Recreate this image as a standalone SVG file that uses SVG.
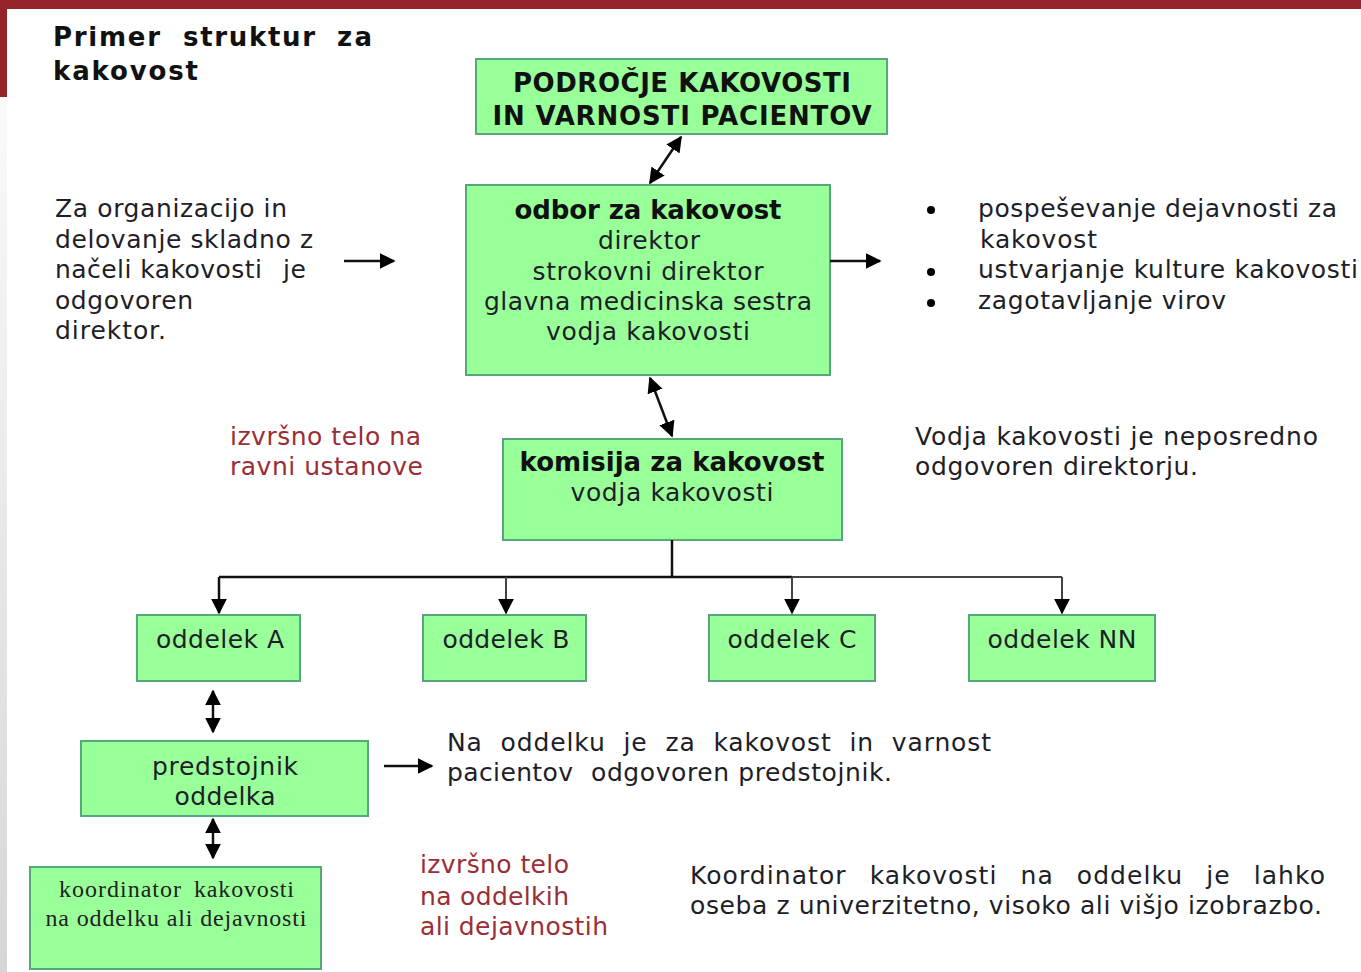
<svg xmlns="http://www.w3.org/2000/svg" width="1361" height="972" viewBox="0 0 1361 972">
  <defs>
    <linearGradient id="sideShade" x1="0" y1="0" x2="0" y2="1">
      <stop offset="0" stop-color="#fafafa"/>
      <stop offset="1" stop-color="#d6d6d6"/>
    </linearGradient>
    <marker id="head" viewBox="0 0 10 10" refX="9" refY="5" markerWidth="16" markerHeight="16" markerUnits="userSpaceOnUse" orient="auto-start-reverse">
      <path d="M0,0 L10,5 L0,10 z" fill="#000"/>
    </marker>
    <style>
      .box { fill: #99ff99; stroke: #55a87a; stroke-width: 2; }
      .t { font-family: "DejaVu Sans", Verdana, sans-serif; font-size: 25px; fill: #1e1e28; }
      .c { text-anchor: middle; }
      .b { font-weight: bold; font-size: 26px; fill: #111; }
      .red { fill: #9a2e36; }
      .serif { font-family: "Liberation Serif", "Times New Roman", serif; font-size: 24px; fill: #222; }
      .ln { fill: none; stroke: #111; stroke-width: 2.5; }
      .ln2 { fill: none; stroke: #444; stroke-width: 2; }
    </style>
  </defs>

  <!-- page frame -->
  <rect x="0" y="0" width="1361" height="972" fill="#fff"/>
  <rect x="0" y="97" width="7" height="875" fill="url(#sideShade)"/>
  <rect x="0" y="0" width="1361" height="9" fill="#952428"/>
  <rect x="0" y="0" width="7" height="97" fill="#952428"/>

  <!-- title -->
  <text class="t b" font-size="28" y="46"><tspan x="53" textLength="107" lengthAdjust="spacing">Primer</tspan><tspan x="183" textLength="132" lengthAdjust="spacing">struktur</tspan><tspan x="337" textLength="35" lengthAdjust="spacing">za</tspan></text>
  <text class="t b" font-size="28" x="53" y="80" textLength="145" lengthAdjust="spacing">kakovost</text>

  <!-- side notes -->
  <g id="note-left">
    <text class="t" x="55" y="217" textLength="232" lengthAdjust="spacing">Za organizacijo in</text>
    <text class="t" x="55" y="248" textLength="258" lengthAdjust="spacing">delovanje skladno z</text>
    <text class="t" x="55" y="278"><tspan textLength="207" lengthAdjust="spacing">načeli kakovosti</tspan><tspan x="283" textLength="23" lengthAdjust="spacing">je</tspan></text>
    <text class="t" x="55" y="309" textLength="138" lengthAdjust="spacing">odgovoren</text>
    <text class="t" x="55" y="339" textLength="111" lengthAdjust="spacing">direktor.</text>
  </g>
  <g id="note-tasks">
    <circle cx="931" cy="210" r="4" fill="#000"/>
    <circle cx="931" cy="272" r="4" fill="#000"/>
    <circle cx="931" cy="303" r="4" fill="#000"/>
    <text class="t" x="978" y="217" textLength="359" lengthAdjust="spacing">pospeševanje dejavnosti za</text>
    <text class="t" x="980" y="248" textLength="117" lengthAdjust="spacing">kakovost</text>
    <text class="t" x="978" y="278" textLength="380" lengthAdjust="spacing">ustvarjanje kulture kakovosti</text>
    <text class="t" x="978" y="309" textLength="248" lengthAdjust="spacing">zagotavljanje virov</text>
  </g>
  <g id="note-exec-institution">
    <text class="t red" x="230" y="445" textLength="191" lengthAdjust="spacing">izvršno telo na</text>
    <text class="t red" x="230" y="475" textLength="193" lengthAdjust="spacing">ravni ustanove</text>
  </g>
  <g id="note-leader">
    <text class="t" x="915" y="445" textLength="403" lengthAdjust="spacing">Vodja kakovosti je neposredno</text>
    <text class="t" x="915" y="475" textLength="283" lengthAdjust="spacing">odgovoren direktorju.</text>
  </g>
  <g id="note-head">
    <text class="t" x="447" y="751" word-spacing="9" textLength="544" lengthAdjust="spacing">Na oddelku je za kakovost in varnost</text>
    <text class="t" y="781"><tspan x="447" textLength="126" lengthAdjust="spacing">pacientov</tspan><tspan x="591" textLength="301" lengthAdjust="spacing">odgovoren predstojnik.</tspan></text>
  </g>
  <g id="note-exec-dept">
    <text class="t red" x="420" y="873" textLength="149" lengthAdjust="spacing">izvršno telo</text>
    <text class="t red" x="420" y="905" textLength="149" lengthAdjust="spacing">na oddelkih</text>
    <text class="t red" x="420" y="935" textLength="188" lengthAdjust="spacing">ali dejavnostih</text>
  </g>
  <g id="note-coordinator">
    <text class="t" x="690" y="884" word-spacing="14" textLength="635" lengthAdjust="spacing">Koordinator kakovosti na oddelku je lahko</text>
    <text class="t" x="690" y="914" textLength="632" lengthAdjust="spacing">oseba z univerzitetno, visoko ali višjo izobrazbo.</text>
  </g>

  <!-- nodes -->
  <g id="area">
    <rect class="box" x="476" y="59" width="411" height="75"/>
    <text class="t b c" x="682" y="92" textLength="338" lengthAdjust="spacing">PODROČJE KAKOVOSTI</text>
    <text class="t b c" x="682" y="125" textLength="379" lengthAdjust="spacing">IN VARNOSTI PACIENTOV</text>
  </g>
  <g id="board">
    <rect class="box" x="466" y="185" width="364" height="190"/>
    <text class="t b c" x="648" y="219" textLength="267" lengthAdjust="spacing">odbor za kakovost</text>
    <text class="t c" x="649" y="249" textLength="102" lengthAdjust="spacing">direktor</text>
    <text class="t c" x="648" y="280" textLength="231" lengthAdjust="spacing">strokovni direktor</text>
    <text class="t c" x="648" y="310" textLength="328" lengthAdjust="spacing">glavna medicinska sestra</text>
    <text class="t c" x="648" y="340" textLength="204" lengthAdjust="spacing">vodja kakovosti</text>
  </g>
  <g id="commission">
    <rect class="box" x="503" y="439" width="339" height="101"/>
    <text class="t b c" x="672" y="471" textLength="305" lengthAdjust="spacing">komisija za kakovost</text>
    <text class="t c" x="672" y="501" textLength="203" lengthAdjust="spacing">vodja kakovosti</text>
  </g>
  <g id="dept-a">
    <rect class="box" x="137" y="615" width="163" height="66"/>
    <text class="t c" x="220" y="648" textLength="128" lengthAdjust="spacing">oddelek A</text>
  </g>
  <g id="dept-b">
    <rect class="box" x="423" y="615" width="163" height="66"/>
    <text class="t c" x="506" y="648" textLength="127" lengthAdjust="spacing">oddelek B</text>
  </g>
  <g id="dept-c">
    <rect class="box" x="709" y="615" width="166" height="66"/>
    <text class="t c" x="792" y="648" textLength="129" lengthAdjust="spacing">oddelek C</text>
  </g>
  <g id="dept-nn">
    <rect class="box" x="969" y="615" width="186" height="66"/>
    <text class="t c" x="1062" y="648" textLength="149" lengthAdjust="spacing">oddelek NN</text>
  </g>
  <g id="head-of-dept">
    <rect class="box" x="81" y="741" width="287" height="75"/>
    <text class="t c" x="225" y="775" textLength="146" lengthAdjust="spacing">predstojnik</text>
    <text class="t c" x="225" y="805" textLength="101" lengthAdjust="spacing">oddelka</text>
  </g>
  <g id="coordinator">
    <rect class="box" x="30" y="867" width="291" height="102"/>
    <text class="serif" y="897"><tspan x="59" textLength="122" lengthAdjust="spacing">koordinator</tspan><tspan x="194" textLength="100" lengthAdjust="spacing">kakovosti</tspan></text>
    <text class="serif c" x="176" y="926" textLength="261" lengthAdjust="spacing">na oddelku ali dejavnosti</text>
  </g>

  <!-- connectors -->
  <g id="connectors">
    <path class="ln" d="M681,137 L650,183" marker-start="url(#head)" marker-end="url(#head)"/>
    <path class="ln" d="M650,378 L672,436" marker-start="url(#head)" marker-end="url(#head)"/>
    <path class="ln" d="M344,261 L394,261" marker-end="url(#head)"/>
    <path class="ln" d="M830,261 L880,261" marker-end="url(#head)"/>
    <path class="ln" d="M384,766 L432,766" marker-end="url(#head)"/>
    <path class="ln" d="M672,540 L672,577 M219,577 L792,577"/>
    <path class="ln2" d="M792,577 L1062,577"/>
    <path class="ln" d="M219,577 L219,613" marker-end="url(#head)"/>
    <path class="ln2" d="M506,577 L506,613" marker-end="url(#head)"/>
    <path class="ln2" d="M792,577 L792,613" marker-end="url(#head)"/>
    <path class="ln2" d="M1062,577 L1062,613" marker-end="url(#head)"/>
    <path class="ln" d="M213,691 L213,732" marker-start="url(#head)" marker-end="url(#head)"/>
    <path class="ln" d="M213,819 L213,858" marker-start="url(#head)" marker-end="url(#head)"/>
  </g>
</svg>
